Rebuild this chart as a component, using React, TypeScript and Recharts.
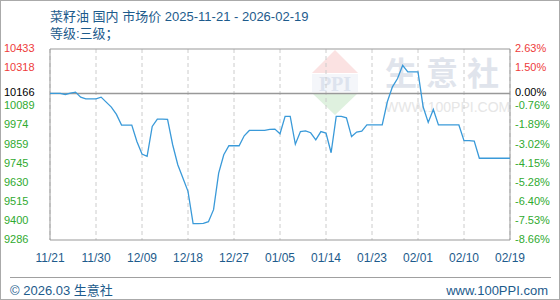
import React from "react";
import {
  CartesianGrid,
  Line,
  LineChart,
  ReferenceArea,
  ReferenceLine,
  XAxis,
  YAxis
} from "recharts";

// daily price, 2025-11-21 .. 2026-02-19
const prices = [
  10166, 10166, 10166, 10160, 10168, 10174, 10144, 10134, 10134, 10134,
  10144, 10114, 10084, 10040, 9976, 9976, 9976, 9878, 9802, 9788,
  9968, 10012, 10012, 10010, 9858, 9738, 9658, 9578, 9384, 9384,
  9386, 9396, 9468, 9688, 9798, 9852, 9852, 9852, 9912, 9944,
  9944, 9944, 9944, 9950, 9952, 9924, 10028, 10028, 9861, 9937,
  9941, 9930, 9887, 9937, 9928, 9810, 10028, 10028, 10020, 9907,
  9934, 9940, 9977, 9977, 9977, 9977, 10116, 10206, 10256, 10335,
  10296, 10296, 10296, 10086, 9992, 10070, 9977, 9977, 9977, 9977,
  9977, 9883, 9883, 9880, 9777, 9777, 9777, 9777, 9777, 9777, 9777
];

const xTickDays = [0, 9, 18, 27, 36, 45, 54, 63, 72, 81, 90];
const xTickLabels = ["11/21", "11/30", "12/09", "12/18", "12/27", "01/05", "01/14", "01/23", "02/01", "02/10", "02/19"];

const basePrice = 10166;
const yMin = 9286;
const yMax = 10433;
const yTickValues = [10433, 10318, 10166, 10089, 9974, 9859, 9745, 9630, 9515, 9400, 9286];
const pctLabels = ["2.63%", "1.50%", "0.00%", "-0.76%", "-1.89%", "-3.02%", "-4.15%", "-5.28%", "-6.40%", "-7.53%", "-8.66%"];

const data = prices.map((price, day) => ({ day, price }));
const gridValues = Array.from({ length: 11 }, (_, i) => yMin + ((yMax - yMin) * i) / 10);

const FONT = "'Liberation Sans', Arial, 'Noto Sans CJK SC', sans-serif";
const BLUE = "#1d5b8c";

function tickColor(v: number) {
  if (v > basePrice) return "#ee3b3b";
  if (v < basePrice) return "#2faa2f";
  return "#000";
}

function LeftTick(props: any) {
  const v = props.payload.value;
  return (
    <text x={4} y={props.y} dy={3} fontSize={11} fontFamily={FONT} fill={tickColor(v)} textAnchor="start">
      {v}
    </text>
  );
}

function RightTick(props: any) {
  const v = props.payload.value;
  const i = yTickValues.indexOf(v);
  return (
    <text x={515} y={props.y} dy={3} fontSize={11} fontFamily={FONT} fill={tickColor(v)} textAnchor="start">
      {pctLabels[i]}
    </text>
  );
}

function BottomTick(props: any) {
  const i = xTickDays.indexOf(props.payload.value);
  return (
    <text x={props.x} y={262} fontSize={12} fontFamily={FONT} fill={BLUE} textAnchor="middle">
      {xTickLabels[i]}
    </text>
  );
}

function Watermark() {
  return (
    <div style={{ position: "absolute", left: 0, top: 0, width: 560, height: 300 }}>
      <svg width={560} height={300} style={{ position: "absolute", left: 0, top: 0 }}>
        <polygon points="335,50 358,73 312,73" fill="#fbe2e2" />
        <rect x={312} y={74} width={46} height={18} fill="#f4f6fa" />
        <text x={335} y={91} fontSize={20} fontWeight="bold" fontFamily="'Liberation Serif', serif" fill="#dde3ee" textAnchor="middle">
          PPI
        </text>
        <polygon points="312,93 358,93 335,115" fill="#dff1df" />
        <text x={385} y={85} fontSize={32} fontWeight="bold" fontFamily={FONT} fill="#e0e4ec" letterSpacing={9}>
          生意社
        </text>
        <text x={385} y={112} fontSize={14} fontFamily={FONT} fill="#e6e6e6">
          WWW.100PPI.COM
        </text>
      </svg>
    </div>
  );
}

export default function App() {
  return (
    <div style={{ position: "absolute", left: 0, top: 0, width: 560, height: 300, background: "#fff", overflow: "hidden", fontFamily: FONT }}>
      <Watermark />
      <div style={{ position: "absolute", left: 50, top: 8, fontSize: 13, color: BLUE, whiteSpace: "nowrap", lineHeight: "17px" }}>
        菜籽油 国内 市场价 2025-11-21 - 2026-02-19
      </div>
      <div style={{ position: "absolute", left: 50, top: 25, fontSize: 13, color: BLUE, whiteSpace: "nowrap", lineHeight: "17px" }}>
        等级:三级；
      </div>
      <div style={{ position: "absolute", left: 0, top: 0 }}>
        <LineChart width={560} height={300} data={data} margin={{ top: 49, right: 0, bottom: 30, left: 0 }}>
          <CartesianGrid
            stroke="#cccccc"
            strokeDasharray="4 3"
            horizontalValues={gridValues}
            verticalValues={xTickDays}
          />
          <XAxis
            dataKey="day"
            type="number"
            domain={[0, 90]}
            ticks={xTickDays}
            interval={0}
            axisLine={false}
            tickLine={false}
            height={30}
            tick={<BottomTick />}
          />
          <YAxis
            yAxisId="left"
            orientation="left"
            type="number"
            domain={[yMin, yMax]}
            ticks={yTickValues}
            interval={0}
            width={50}
            axisLine={false}
            tickLine={false}
            allowDataOverflow
            tick={<LeftTick />}
          />
          <YAxis
            yAxisId="right"
            orientation="right"
            type="number"
            domain={[yMin, yMax]}
            ticks={yTickValues}
            interval={0}
            width={50}
            axisLine={false}
            tickLine={false}
            allowDataOverflow
            tick={<RightTick />}
          />
          <ReferenceArea
            yAxisId="left"
            x1={0}
            x2={90}
            y1={yMin}
            y2={yMax}
            fill="#fff"
            fillOpacity={0}
            stroke="#999"
            strokeWidth={1}
          />
          <ReferenceLine yAxisId="left" y={basePrice} stroke="#999" strokeWidth={1.5} />
          <Line
            yAxisId="left"
            type="linear"
            dataKey="price"
            stroke="#3a9ad9"
            strokeWidth={1.3}
            dot={false}
            isAnimationActive={false}
          />
        </LineChart>
      </div>
      <div style={{ position: "absolute", left: 10, top: 277, width: 541, height: 1, background: "#a0a0a0" }} />
      <div style={{ position: "absolute", left: 10, top: 282, fontSize: 13, color: BLUE, whiteSpace: "nowrap", lineHeight: "17px" }}>
        © 2026.03 生意社
      </div>
      <div style={{ position: "absolute", right: 12, top: 282, fontSize: 13, color: BLUE, whiteSpace: "nowrap", lineHeight: "17px" }}>
        www.100PPI.com
      </div>
      <div style={{ position: "absolute", left: 0, top: 0, width: 558, height: 298, border: "1px solid #aaa", pointerEvents: "none" }} />
    </div>
  );
}
